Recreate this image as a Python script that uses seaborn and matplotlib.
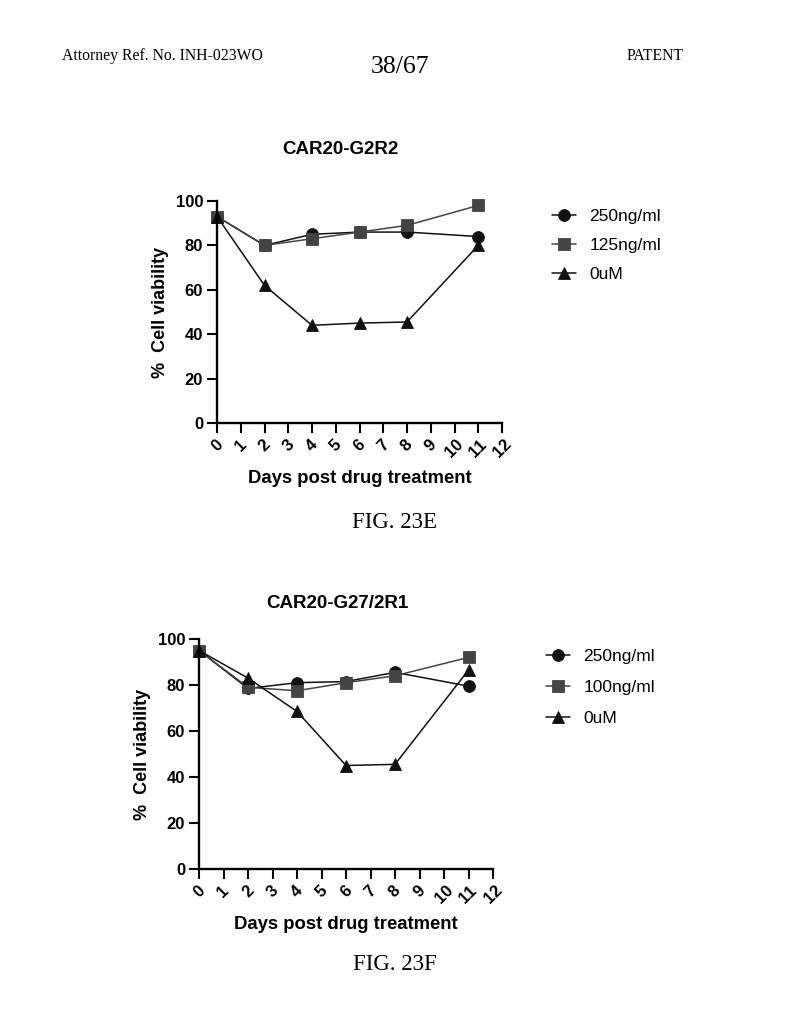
import matplotlib
matplotlib.use("Agg")
import matplotlib.pyplot as plt
import seaborn as sns
import pandas as pd

sns.set_style("ticks")
plt.rcParams['font.family'] = ['Liberation Sans', 'DejaVu Sans']
plt.rcParams['text.color'] = 'black'
plt.rcParams['axes.labelcolor'] = 'black'
plt.rcParams['xtick.color'] = 'black'
plt.rcParams['ytick.color'] = 'black'

days = [0, 2, 4, 6, 8, 11]

# FIG. 23E  CAR20-G2R2
e_labels = ["250ng/ml", "125ng/ml", "0uM"]
e_250 = [93, 80, 85, 86, 86, 84]
e_125 = [93, 80, 83, 86, 89, 98]
e_0 = [93, 62, 44, 45, 45.5, 80]

# FIG. 23F  CAR20-G27/2R1
f_labels = ["250ng/ml", "100ng/ml", "0uM"]
f_250 = [95, 78.5, 81, 81.5, 85.5, 79.5]
f_100 = [95, 79, 77.5, 81, 84, 92]
f_0 = [95, 83, 68.5, 45, 45.5, 86.5]

x_ticks = list(range(0, 13))
y_ticks = [0, 20, 40, 60, 80, 100]


def long_df(labels, series):
    rows = []
    for lab, vals in zip(labels, series):
        for d, v in zip(days, vals):
            rows.append({"day": d, "val": v, "series": lab})
    return pd.DataFrame(rows)


fig = plt.figure(figsize=(7.9, 10.24), dpi=100)
fig.patch.set_facecolor("white")

serif = ['Liberation Serif', 'DejaVu Serif']
fig.text(62 / 790, 1 - 56 / 1024, "Attorney Ref. No. INH-023WO", family=serif, fontsize=11.3, ha="left", va="center")
fig.text(400 / 790, 1 - 67 / 1024, "38/67", family=serif, fontsize=18.5, ha="center", va="center")
fig.text(684 / 790, 1 - 56 / 1024, "PATENT", family=serif, fontsize=11.3, ha="right", va="center")
fig.text(395 / 790, 1 - 522 / 1024, "FIG. 23E", family=serif, fontsize=16.5, ha="center", va="center")
fig.text(395 / 790, 1 - 965 / 1024, "FIG. 23F", family=serif, fontsize=16.5, ha="center", va="center")


def draw(rect, labels, series, title, title_xy, legend_xy, colors, spacing):
    ax = fig.add_axes(rect)
    df = long_df(labels, series)
    markers = dict(zip(labels, ["o", "s", "^"]))
    palette = dict(zip(labels, colors))
    sns.lineplot(data=df, x="day", y="val", hue="series", style="series",
                 markers=markers, dashes=False, palette=palette, ax=ax,
                 linewidth=1.1, markersize=8.5, markeredgewidth=0.6,
                 legend=True)
    for ln in ax.lines:
        ln.set_markeredgecolor(ln.get_color())
        ln.set_clip_on(False)
    ax.set_xlim(0, 12)
    ax.set_ylim(0, 100)
    ax.set_xticks(x_ticks)
    ax.set_yticks(y_ticks)
    ax.set_xticklabels([str(t) for t in x_ticks], rotation=45, ha="center",
                       fontsize=12, fontweight="bold")
    ax.set_yticklabels([str(t) for t in y_ticks], fontsize=12, fontweight="bold")
    ax.tick_params(axis="both", direction="out", length=7, width=1.5, color="black", pad=3)
    for s in ["left", "bottom"]:
        ax.spines[s].set_linewidth(1.7)
        ax.spines[s].set_color("black")
    for s in ["top", "right"]:
        ax.spines[s].set_visible(False)
    ax.set_facecolor("white")
    ax.set_xlabel("Days post drug treatment", fontsize=13.3, fontweight="bold", labelpad=7)
    ax.set_ylabel("%  Cell viability", fontsize=13, fontweight="bold", labelpad=5)
    fig.text(title_xy[0], title_xy[1], title, fontsize=13.5, fontweight="bold", ha="center", va="center")
    handles, labs = ax.get_legend_handles_labels()
    ax.legend(handles, labs, loc="upper left", bbox_to_anchor=legend_xy,
              bbox_transform=fig.transFigure, frameon=False, fontsize=12.5,
              handlelength=1.4, labelspacing=spacing, handletextpad=0.75,
              borderpad=0, borderaxespad=0)
    return ax


draw([217 / 790, 1 - 423 / 1024, 285 / 790, 222 / 1024], e_labels,
     [e_250, e_125, e_0], "CAR20-G2R2", (340 / 790, 1 - 149 / 1024),
     (552 / 790, 1 - 209 / 1024), ["#111111", "#444444", "#111111"], 0.8)

draw([199 / 790, 1 - 869 / 1024, 294 / 790, 230 / 1024], f_labels,
     [f_250, f_100, f_0], "CAR20-G27/2R1", (337 / 790, 1 - 604 / 1024),
     (546 / 790, 1 - 649 / 1024), ["#111111", "#444444", "#111111"], 0.9)

fig.savefig("out.png", dpi=100, facecolor="white")
